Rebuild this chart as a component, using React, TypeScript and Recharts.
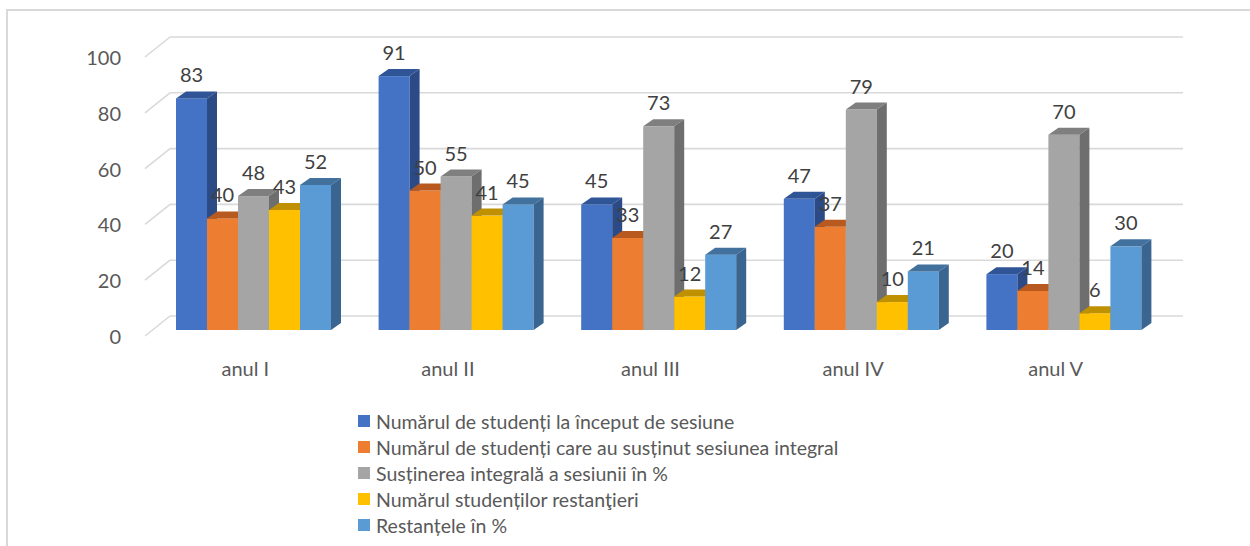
import { BarChart, Bar, XAxis, YAxis, CartesianGrid, LabelList, Legend } from 'recharts';

// categories and series values
const categories = ['anul I', 'anul II', 'anul III', 'anul IV', 'anul V'];
const inceputSesiune = [83, 91, 45, 47, 20];
const sustinutIntegral = [40, 50, 33, 37, 14];
const sustinereProcent = [48, 55, 73, 79, 70];
const restantieri = [43, 41, 12, 10, 6];
const restanteProcent = [52, 45, 27, 21, 30];
const yTicks = [0, 20, 40, 60, 80, 100];

const FONT = 'Lato, "Liberation Sans", sans-serif';
const GRID = '#d9d9d9';

const SERIES = [
  { key: 's1', name: 'Numărul de studenți la început de sesiune', values: inceputSesiune, color: '#4472C4', top: '#2F5597', side: '#2C4A86' },
  { key: 's2', name: 'Numărul de studenți care au susținut sesiunea integral', values: sustinutIntegral, color: '#ED7D31', top: '#B85A1F', side: '#AE5A21' },
  { key: 's3', name: 'Susținerea integrală a sesiunii în %', values: sustinereProcent, color: '#A5A5A5', top: '#7F7F7F', side: '#6E6E6E' },
  { key: 's4', name: 'Numărul studenților restanţieri', values: restantieri, color: '#FFC000', top: '#BF9000', side: '#B08600' },
  { key: 's5', name: 'Restanțele în %', values: restanteProcent, color: '#5B9BD5', top: '#41719C', side: '#3A6590' },
];

const data = categories.map((cat, i) => {
  const row: Record<string, any> = { cat };
  SERIES.forEach(s => { row[s.key] = s.values[i]; });
  return row;
});

// 3D look: depth offset of the box
const DX = 10;
const DY = 7;

const Box = (props: any) => {
  const { x, y, width, height, fill, top, side } = props;
  if (width == null || height == null) return null;
  return (
    <g>
      <rect x={x} y={y} width={width} height={height} fill={fill} />
      <polygon
        points={`${x},${y} ${x + DX},${y - DY} ${x + width + DX},${y - DY} ${x + width},${y}`}
        fill={top}
      />
      <polygon
        points={`${x + width},${y} ${x + width + DX},${y - DY} ${x + width + DX},${y + height - DY} ${x + width},${y + height}`}
        fill={side}
      />
    </g>
  );
};

// back wall line + slanted floor edge for each y tick
const gridLine = (p: any) => {
  const { x1, x2, y1 } = p;
  return (
    <g key={`g-${y1}`}>
      <line x1={x1 - 7} y1={y1 + 6} x2={x1 + 18} y2={y1 - 14} stroke={GRID} strokeWidth={1.6} />
      <line x1={x1 + 18} y1={y1 - 14} x2={x2 + 18} y2={y1 - 14} stroke={GRID} strokeWidth={1.6} />
    </g>
  );
};

const YTick = (props: any) => {
  const { y, payload } = props;
  return (
    <text x={121} y={y + 6} textAnchor="end" dominantBaseline="central" fill="#595959" fontSize={20} fontFamily={FONT}>
      {payload.value}
    </text>
  );
};

const XTick = (props: any) => {
  const { x, payload } = props;
  return (
    <text x={x - 8} y={368} textAnchor="middle" dominantBaseline="central" fill="#595959" fontSize={20} fontFamily={FONT}>
      {payload.value}
    </text>
  );
};

const ValueLabel = (props: any) => {
  const { x, y, width, value } = props;
  return (
    <text x={x + width / 2} y={y - 24} textAnchor="middle" dominantBaseline="central" fill="#404040" fontSize={20} fontFamily={FONT}>
      {value}
    </text>
  );
};

const LegendBox = () => (
  <div style={{ fontFamily: FONT, fontSize: 19.5, color: '#595959' }}>
    {SERIES.map(s => (
      <div key={s.key} style={{ display: 'flex', alignItems: 'center', height: 26 }}>
        <span style={{ width: 12, height: 12, background: s.color, marginRight: 6, flex: 'none' }} />
        <span style={{ whiteSpace: 'nowrap' }}>{s.name}</span>
      </div>
    ))}
  </div>
);

export default function App() {
  return (
    <div style={{ position: 'absolute', left: 0, top: 0, width: 1250, height: 546, background: '#fff', overflow: 'hidden' }}>
      <div
        style={{
          position: 'absolute', left: 6, top: 9, width: 1260, height: 560,
          borderTop: `2px solid ${GRID}`, borderLeft: `2px solid ${GRID}`,
        }}
      />
      <div style={{ position: 'absolute', left: 0, top: 0 }}>
        <BarChart
          width={1250}
          height={546}
          data={data}
          margin={{ top: 51, right: 85, bottom: 186, left: 0 }}
          barSize={31}
          barGap={0}
        >
          <CartesianGrid vertical={false} horizontal={gridLine} />
          <XAxis dataKey="cat" axisLine={false} tickLine={false} height={30} tick={<XTick />} />
          <YAxis
            domain={[0, 100]}
            ticks={yTicks}
            width={152}
            axisLine={false}
            tickLine={false}
            tick={<YTick />}
          />
          <Legend
            layout="vertical"
            align="center"
            verticalAlign="middle"
            content={<LegendBox />}
            wrapperStyle={{ position: 'absolute', left: 358, top: 408, width: 600, height: 135 }}
          />
          {SERIES.map(s => (
            <Bar
              key={s.key}
              dataKey={s.key}
              name={s.name}
              fill={s.color}
              isAnimationActive={false}
              shape={(p: any) => <Box {...p} top={s.top} side={s.side} />}
            >
              <LabelList dataKey={s.key} content={<ValueLabel />} />
            </Bar>
          ))}
        </BarChart>
      </div>
    </div>
  );
}
